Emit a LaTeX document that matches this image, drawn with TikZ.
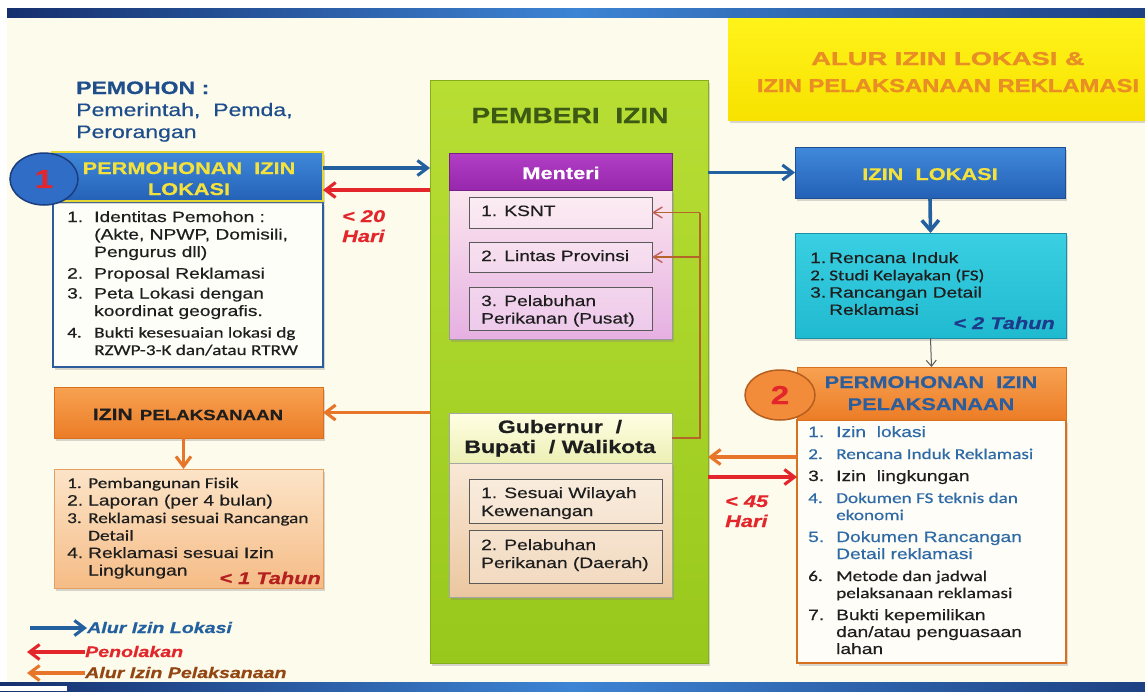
\documentclass[tikz,border=0pt]{standalone}
\usepackage{fontspec}
\setmainfont{Liberation Sans}[FakeStretch=1.28,FakeBold=0.5]
\newfontfamily\calib{Carlito}[FakeStretch=1.28,FakeBold=0.5]
\newfontfamily\titleA{Liberation Sans Bold}[FakeStretch=1.47,FakeBold=1.5]
\newfontfamily\titleB{Liberation Sans Bold}[FakeStretch=1.28,FakeBold=1.5]
\usetikzlibrary{arrows.meta,shapes.geometric,fit,shadows,calc}
\newcommand\fs[2]{\fontsize{#1}{#2}\selectfont}
\newcommand\nb[2]{\makebox[#1][l]{#2}}
\definecolor{cream}{HTML}{FDFBEC}
\definecolor{navyb}{HTML}{16306E}
\definecolor{bandblue}{HTML}{3D84D4}
\definecolor{pemblue}{HTML}{1F4E8C}
\definecolor{hblueT}{HTML}{4089DA}
\definecolor{hblueB}{HTML}{2461B6}
\definecolor{ytext}{HTML}{F4E13C}
\definecolor{ybord}{HTML}{E6D632}
\definecolor{lbord}{HTML}{2D5C9C}
\definecolor{arrblue}{HTML}{22609F}
\definecolor{arrred}{HTML}{E3262B}
\definecolor{arrorange}{HTML}{E8762A}
\definecolor{greenT}{HTML}{B8DE34}
\definecolor{greenB}{HTML}{98C81C}
\definecolor{greenD}{HTML}{86AE18}
\definecolor{greentext}{HTML}{3C5A14}
\definecolor{purpT}{HTML}{B23FC6}
\definecolor{purpB}{HTML}{9727AC}
\definecolor{pinkT}{HTML}{FBE6EE}
\definecolor{pinkB}{HTML}{E6B0E2}
\definecolor{gyT}{HTML}{FFFFE4}
\definecolor{gyB}{HTML}{ECEFB4}
\definecolor{peachT}{HTML}{F9E8D6}
\definecolor{peachB}{HTML}{EBC7A0}
\definecolor{subbord}{HTML}{5A5A5A}
\definecolor{brn}{HTML}{B5652A}
\definecolor{brntip}{HTML}{C0605A}
\definecolor{titleT}{HTML}{FFF31A}
\definecolor{titleB}{HTML}{F7E200}
\definecolor{titletext}{HTML}{E88E24}
\definecolor{cyanT}{HTML}{3ACFE2}
\definecolor{cyanB}{HTML}{20BAD0}
\definecolor{cyanD}{HTML}{1A8FA6}
\definecolor{tahunblue}{HTML}{1E3A8A}
\definecolor{orT}{HTML}{F7A252}
\definecolor{orB}{HTML}{EC7C26}
\definecolor{orD}{HTML}{D8701E}
\definecolor{b2blue}{HTML}{2C5E9E}
\definecolor{itemblue}{HTML}{2E6AA6}
\definecolor{darktxt}{HTML}{1E1E1E}
\definecolor{plT}{HTML}{FCE4C8}
\definecolor{plB}{HTML}{F5BC86}
\definecolor{plD}{HTML}{E3A060}
\definecolor{tahunred}{HTML}{B3201F}
\definecolor{legor}{HTML}{934512}
\definecolor{c1fill}{HTML}{2F6DC6}
\definecolor{c1bord}{HTML}{1C3D7E}
\definecolor{c2fill}{HTML}{F28C3A}
\definecolor{c2bord}{HTML}{B65E20}
\newcommand\cblue{\color{itemblue}}
\newcommand\cdark{\color{darktxt}}
\tikzset{
  bx/.style={inner sep=0pt, outer sep=0pt, rectangle},
  shd/.style={drop shadow={shadow xshift=2pt, shadow yshift=-2.5pt, opacity=0.3}},
  txt/.style={inner sep=0pt, anchor=base west},
  ctxt/.style={inner sep=0pt, anchor=base},
  arrtip/.style={-{Straight Barb[length=10pt,width=15pt]}},
  barrow/.style={draw=arrblue, line width=3.1pt, arrtip},
  rarrow/.style={draw=arrred, line width=3.1pt, arrtip},
  oarrow/.style={draw=arrorange, line width=3.1pt, arrtip},
  brnline/.style={draw=brn, line width=1.4pt},
  brnarrow/.style={draw=brn, line width=1.4pt, -{Straight Barb[length=9pt,width=11pt,color=brntip]}},
  thinarrow/.style={draw=black!65, line width=1pt, -{Straight Barb[length=6pt,width=10pt]}},
  subbox/.style={bx, draw=subbord, line width=.8pt, fill=white, fill opacity=.3},
}
\begin{document}
\begin{tikzpicture}[x=1pt,y=-1pt]
\useasboundingbox (0,0) rectangle (1145,691);
\fill[white] (0,0) rectangle (1145,691);
\fill[cream] (7,8) rectangle (1145,691);
\shade[left color=navyb, right color=navyb!80!bandblue, middle color=bandblue] (7,8) rectangle (1145,17);
\shade[left color=navyb, right color=navyb!80!bandblue, middle color=bandblue] (0,682) rectangle (1145,691);
\fill[white] (0,686) rectangle (67,691);

% PEMOHON
\node[txt, text=pemblue, font=\fs{18}{22}] (pemohon) at (76,94) {\begin{tabular}[t]{@{}l@{}}\textbf{PEMOHON :}\\Pemerintah,\ \ Pemda,\\Perorangan\end{tabular}};

% Box 1
\node[bx, fit={(53,202)(323,367)}, fill=white!70!cream, draw=lbord, line width=1.5pt, shd] (l1) {};
\node[bx, fit={(52,152)(323,201)}, top color=hblueT, bottom color=hblueB, draw=ybord, line width=1.2pt, shd] (h1) {};
\node[ctxt, text=ytext, font=\fs{17}{21}\bfseries] (h1t) at (189,174) {\begin{tabular}[t]{@{}c@{}}PERMOHONAN\ \ IZIN\\LOKASI\end{tabular}};
\node[ellipse, minimum width=68pt, minimum height=52pt, inner sep=0pt, fill=c1fill, draw=c1bord, line width=1.5pt, text=arrred, font=\fs{26}{26}\bfseries] (c1) at (44,179) {1};
\node[txt, text=darktxt, font=\fs{15}{17.5}] (l1t) at (67,222) {\begin{tabular}[t]{@{}l@{}l@{}}
\nb{27pt}{1.} & Identitas Pemohon :\\
 & (Akte, NPWP, Domisili,\\
 & Pengurus dll)\\[4pt]
2. & Proposal Reklamasi\\[2.5pt]
3. & Peta Lokasi dengan\\
 & koordinat geografis.\\[4pt]
\calib 4. & \calib Bukti kesesuaian lokasi dg\\
 & \calib RZWP-3-K dan/atau RTRW
\end{tabular}};
\node[txt, text=arrred, font=\fs{17}{20}\bfseries\itshape] (d20) at (342,222) {\begin{tabular}[t]{@{}l@{}}< 20\\Hari\end{tabular}};

% PEMBERI IZIN
\node[bx, fit={(430,80)(708,663)}, top color=greenT, bottom color=greenB, draw=greenD, line width=0.8pt, shd] (pemberi) {};
\node[ctxt, text=greentext, font=\fs{22}{22}\bfseries] (pemt) at (570,123) {PEMBERI\ \ IZIN};

% Menteri
\node[bx, fit={(449,190)(672,339)}, top color=pinkT, bottom color=pinkB, draw=black!40, line width=.6pt, shd] (mbody) {};
\node[bx, fit={(449,153)(672,190)}, top color=purpT, bottom color=purpB, draw=purpB!80!black, line width=.6pt] (mhead) {};
\node[ctxt, text=white, font=\fs{17}{17}\bfseries] (mheadt) at (561,179) {Menteri};
\node[subbox, fit={(469,197)(652,228)}] (ksnt) {};
\node[subbox, fit={(469,242)(652,272)}] (lintas) {};
\node[subbox, fit={(469,287)(652,330)}] (pelab) {};
\node[txt, text=darktxt, font=\fs{15}{17.5}] (ksntt) at (481,216) {1. KSNT};
\node[txt, text=darktxt, font=\fs{15}{17.5}] (lintt) at (481,261) {2. Lintas Provinsi};
\node[txt, text=darktxt, font=\fs{15}{17.5}] (pelabt) at (481,306) {\begin{tabular}[t]{@{}l@{}}3. Pelabuhan\\Perikanan (Pusat)\end{tabular}};

% Gubernur
\node[bx, fit={(449,463)(672,597)}, top color=peachT, bottom color=peachB, draw=black!35, line width=.6pt, shd] (gbody) {};
\node[bx, fit={(449,413)(672,463)}, top color=gyT, bottom color=gyB, draw=black!35, line width=.6pt] (ghead) {};
\node[ctxt, text=darktxt, font=\fs{18}{20}\bfseries] (gheadt) at (560,433) {\begin{tabular}[t]{@{}c@{}}Gubernur\ \ /\\Bupati\ \ / Walikota\end{tabular}};
\node[subbox, fit={(469,479)(662,523)}] (sw) {};
\node[subbox, fit={(469,530)(662,583)}] (pd) {};
\node[txt, text=darktxt, font=\fs{15}{18}] (swt) at (481,498) {\begin{tabular}[t]{@{}l@{}}1. Sesuai Wilayah\\Kewenangan\end{tabular}};
\node[txt, text=darktxt, font=\fs{15}{18}] (pdt) at (481,550) {\begin{tabular}[t]{@{}l@{}}2. Pelabuhan\\Perikanan (Daerah)\end{tabular}};

% brown connector
\coordinate (jn) at (700,438);
\draw[brnline] (ghead.east) -- (jn) -- (jn |- ksnt.east);
\draw[brnarrow] (jn |- ksnt.east) -- (ksnt.east);
\draw[brnarrow] (jn |- lintas.east) -- (lintas.east);

% Title
\node[bx, fit={(728,18)(1145,120)}, top color=titleT, bottom color=titleB, shd] (title) {};
\node[ctxt, text=titletext, font=\fs{18.6}{27}] (titlet) at (948,65) {\begin{tabular}[t]{@{}c@{}}{\titleA ALUR IZIN LOKASI \&}\\{\titleB IZIN PELAKSANAAN REKLAMASI}\end{tabular}};

% Izin lokasi
\node[bx, fit={(795,147)(1065,198)}, top color=hblueT, bottom color=hblueB, draw=hblueB!80!black, line width=.6pt, shd] (lok) {};
\node[ctxt, text=ytext, font=\fs{17}{20}\bfseries] (lokt) at (930,180) {IZIN\ \ LOKASI};
\node[bx, fit={(795,233)(1066,338)}, top color=cyanT, bottom color=cyanB, draw=cyanD, line width=.8pt, shd] (cyanbox) {};
\node[txt, text=darktxt, font=\fs{15}{17.3}] (cyt) at (810,263) {\begin{tabular}[t]{@{}l@{}l@{}}
\nb{19pt}{1.} & Rencana Induk\\
\calib 2. & \calib Studi Kelayakan (FS)\\
3. & Rancangan Detail\\
 & Reklamasi
\end{tabular}};
\node[anchor=base east, inner sep=0pt, text=tahunblue, font=\fs{17}{17}\bfseries\itshape] (t2) at (1055,329) {< 2 Tahun};
\draw[barrow] (pemberi.east |- lok.west) -- (lok.west);
\draw[draw=arrblue, line width=3.6pt, -{Straight Barb[length=10pt,width=17pt]}] (lok.south) -- (cyanbox.north);

% Box 2
\node[bx, fit={(797,420)(1066,663)}, fill=white!60!cream, draw=orD, line width=2pt, shd] (b2) {};
\node[bx, fit={(797,367)(1066,420)}, top color=orT, bottom color=orB, draw=orD, line width=1pt] (h2) {};
\node[ctxt, text=b2blue, font=\fs{17}{22}\bfseries] (h2t) at (931,388) {\begin{tabular}[t]{@{}c@{}}PERMOHONAN\ \ IZIN\\PELAKSANAAN\end{tabular}};
\draw[thinarrow] (cyanbox.south) -- (h2.north);
\node[ellipse, minimum width=70pt, minimum height=50pt, inner sep=0pt, fill=c2fill, draw=c2bord, line width=1.5pt, text=arrred, font=\fs{26}{26}\bfseries] (c2) at (780,395) {2};
\node[txt, font=\fs{15}{17}] (b2t) at (808,437) {\begin{tabular}[t]{@{}l@{}l@{}}
\nb{28pt}{\cblue 1.} & \cblue Izin\ \ lokasi\\[5pt]
\calib\cblue 2. & \calib\cblue Rencana Induk Reklamasi\\[5pt]
\cdark 3. & \cdark Izin\ \ lingkungan\\[5pt]
\calib\cblue 4. & \calib\cblue Dokumen FS teknis dan\\
 & \calib\cblue ekonomi\\[5pt]
\cblue 5. & \cblue Dokumen Rancangan\\
 & \cblue Detail reklamasi\\[5pt]
\calib\cdark 6. & \calib\cdark Metode dan jadwal\\
 & \calib\cdark pelaksanaan reklamasi\\[5pt]
\cdark 7. & \cdark Bukti kepemilikan\\
 & \cdark dan/atau penguasaan\\
 & \cdark lahan
\end{tabular}};
\coordinate (y457) at (0,457);
\coordinate (y477) at (0,477);
\draw[oarrow] (b2.west |- y457) -- (pemberi.east |- y457);
\draw[rarrow] (pemberi.east |- y477) -- (b2.west |- y477);
\node[txt, text=arrred, font=\fs{17}{20}\bfseries\itshape] (d45) at (725,507) {\begin{tabular}[t]{@{}l@{}}< 45\\Hari\end{tabular}};

% Box 1 arrows
\coordinate (y168) at (0,168);
\coordinate (y190) at (0,190);
\draw[barrow] (h1.east |- y168) -- (pemberi.west |- y168);
\draw[rarrow] (pemberi.west |- y190) -- (h1.east |- y190);

% Izin pelaksanaan
\node[bx, fit={(54,387)(323,438)}, top color=orT, bottom color=orB, draw=orD, line width=.6pt, shd] (ip) {};
\node[ctxt, text=darktxt, font=\bfseries] (ipt) at (188,420) {{\fs{16.5}{18}IZIN}\ \ {\fs{14.6}{18}PELAKSANAAN}};
\node[bx, fit={(54,469)(323,588)}, top color=plT, bottom color=plB, draw=plD, line width=.8pt, shd] (pk) {};
\draw[oarrow] (pemberi.west |- ip.east) -- (ip.east);
\draw[oarrow] ([xshift=-5pt]ip.south) -- ([xshift=-5pt]ip.south |- pk.north);
\node[txt, text=darktxt, font=\fs{15}{17.5}] (pkt) at (67,488) {\begin{tabular}[t]{@{}l@{}l@{}}
\calib\nb{21pt}{1.} & \calib Pembangunan Fisik\\
2. & Laporan (per 4 bulan)\\
\calib 3. & \calib Reklamasi sesuai Rancangan\\
 & \calib Detail\\
4. & Reklamasi sesuai Izin\\
 & Lingkungan
\end{tabular}};
\node[anchor=base east, inner sep=0pt, text=tahunred, font=\fs{17}{17}\bfseries\itshape] (t1) at (321,584) {< 1 Tahun};

% Legend
\node[txt, text=arrblue, font=\fs{15.3}{16}\bfseries\itshape] (lg1) at (87,633) {Alur Izin Lokasi};
\node[txt, text=arrred, font=\fs{15.3}{16}\bfseries\itshape] (lg2) at (85,657) {Penolakan};
\node[txt, text=legor, font=\fs{15.3}{16}\bfseries\itshape] (lg3) at (85,678) {Alur Izin Pelaksanaan};
\coordinate (lg1s) at (30,628);
\coordinate (lg2e) at (27,652);
\coordinate (lg3e) at (27,673);
\draw[barrow] (lg1s) -- (lg1s -| lg1.west);
\draw[rarrow] (lg2e -| lg2.west) -- (lg2e);
\draw[oarrow] (lg3e -| lg3.west) -- (lg3e);
\end{tikzpicture}
\end{document}
